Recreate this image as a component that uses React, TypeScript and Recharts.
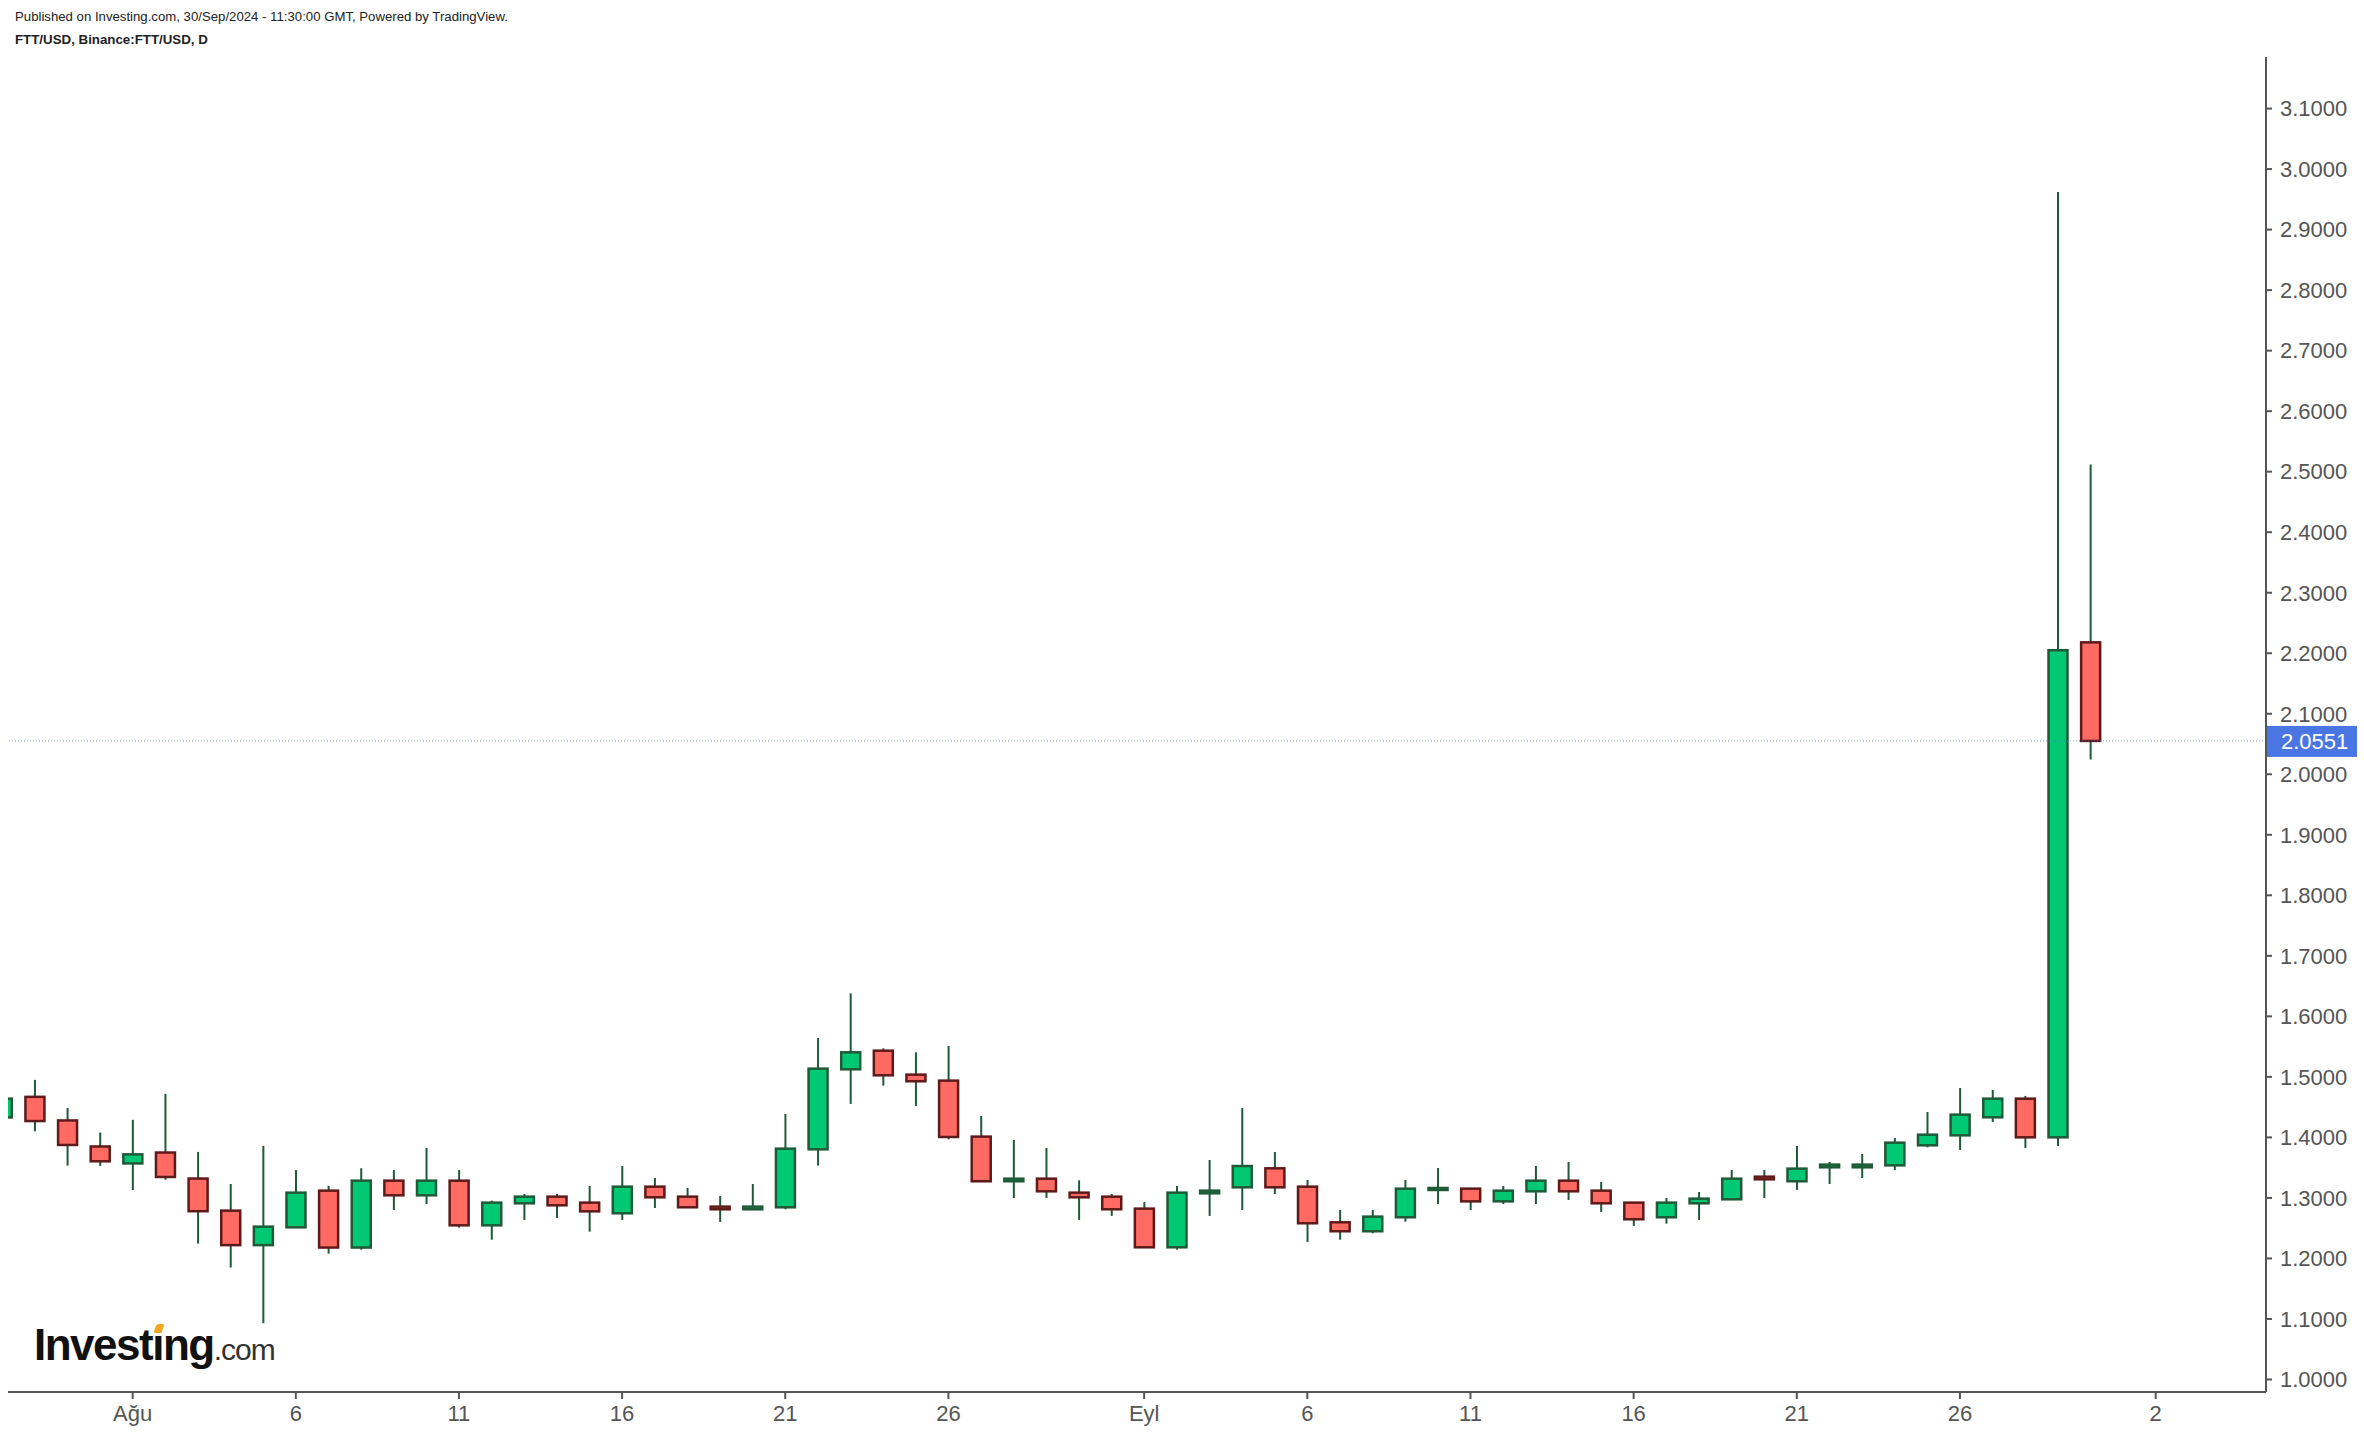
import { Bar, ComposedChart, ReferenceLine, XAxis, YAxis } from "recharts";

// days counted from 1 Aug 2024; first candle is 28 Jul
const FIRST_DAY = -4;

const opens = [
  1.433, 1.467, 1.428, 1.385, 1.357, 1.375, 1.332, 1.279, 1.222, 1.2514, 1.312, 1.218, 1.3285, 1.3043, 1.3285, 1.2547,
  1.2911, 1.3021, 1.2922, 1.2746, 1.3186, 1.3021, 1.2856, 1.2812, 1.2845, 1.3803, 1.5125, 1.5433, 1.5037, 1.4938,
  1.4013, 1.3275, 1.3318, 1.3087, 1.3021, 1.2823, 1.2184, 1.3076, 1.3175, 1.3489, 1.3186, 1.2597, 1.2449, 1.268,
  1.3142, 1.3153, 1.2943, 1.3109, 1.3285, 1.312, 1.2922, 1.268, 1.2911, 1.2977, 1.3351, 1.3275, 1.3506, 1.3506,
  1.3538, 1.3869, 1.4034, 1.4332, 1.464, 1.4001, 2.218,
];
const highs = [
  1.466, 1.495, 1.4485, 1.408, 1.429, 1.472, 1.376, 1.323, 1.386, 1.346, 1.32, 1.349, 1.346, 1.3825, 1.346, 1.2955,
  1.3065, 1.3065, 1.3197, 1.3527, 1.3329, 1.3164, 1.3032, 1.323, 1.4387, 1.5643, 1.638, 1.5472, 1.5406, 1.5511,
  1.4354, 1.3958, 1.3825, 1.3291, 1.3065, 1.2933, 1.3197, 1.3627, 1.4485, 1.3759, 1.3296, 1.28, 1.28, 1.3296,
  1.3494, 1.3153, 1.3197, 1.3527, 1.3594, 1.3263, 1.2922, 1.2999, 1.3098, 1.3461, 1.3461, 1.3858, 1.3594, 1.3726,
  1.399, 1.442, 1.4817, 1.4784, 1.4685, 2.962, 2.512,
];
const lows = [
  1.431, 1.41, 1.3534, 1.353, 1.313, 1.33, 1.2245, 1.185, 1.093, 1.251, 1.208, 1.2145, 1.28, 1.2899, 1.2509, 1.231,
  1.2636, 1.2669, 1.2442, 1.2636, 1.2834, 1.284, 1.2603, 1.281, 1.2812, 1.3534, 1.4553, 1.4855, 1.452, 1.3969,
  1.327, 1.2999, 1.2999, 1.2636, 1.2702, 1.218, 1.2145, 1.2702, 1.28, 1.3065, 1.2272, 1.231, 1.2416, 1.2608,
  1.2899, 1.28, 1.2899, 1.2899, 1.2966, 1.2767, 1.2537, 1.2575, 1.2636, 1.297, 1.2999, 1.3132, 1.323, 1.3329,
  1.3461, 1.3836, 1.3792, 1.4255, 1.3825, 1.3858, 2.0245,
];
const closes = [
  1.464, 1.427, 1.3875, 1.3605, 1.372, 1.3346, 1.278, 1.222, 1.2525, 1.3087, 1.218, 1.3285, 1.3043, 1.3285, 1.2547,
  1.2922, 1.3021, 1.2878, 1.2778, 1.3186, 1.301, 1.2845, 1.2812, 1.2856, 1.3814, 1.5136, 1.5406, 1.5026, 1.4927,
  1.4007, 1.3275, 1.3318, 1.3109, 1.301, 1.2812, 1.2184, 1.3087, 1.312, 1.3527, 1.3175, 1.2581, 1.2449, 1.2691,
  1.3153, 1.3153, 1.2943, 1.312, 1.3285, 1.3109, 1.2911, 1.2647, 1.2922, 1.2988, 1.3318, 1.3307, 1.3484, 1.355,
  1.355, 1.3913, 1.4045, 1.4376, 1.464, 1.4001, 2.205, 2.0551,
];

const tickDays = [0, 5, 10, 15, 20, 25, 31, 36, 41, 46, 51, 56, 62];
const tickLabels = ["Ağu", "6", "11", "16", "21", "26", "Eyl", "6", "11", "16", "21", "26", "2"];
const priceTicks = [
  1.0, 1.1, 1.2, 1.3, 1.4, 1.5, 1.6, 1.7, 1.8, 1.9, 2.0, 2.1, 2.2, 2.3, 2.4, 2.5, 2.6, 2.7, 2.8, 2.9, 3.0, 3.1,
];
const LAST_PRICE = 2.0551;

const FONT = "'Liberation Sans', Arial, sans-serif";
const AXIS_GREY = "#555555";
const WICK = "#1f5a38";
const UP_FILL = "#00c873";
const UP_EDGE = "#1f5a38";
const DOWN_FILL = "#ff6b62";
const DOWN_EDGE = "#5e1a1a";
const PRICE_BLUE = "#4a76e3";

const data = opens.map((open, i) => ({
  day: FIRST_DAY + i,
  open,
  high: highs[i],
  low: lows[i],
  close: closes[i],
  range: [lows[i], highs[i]],
}));

function Candle(props: any) {
  const { x, y, width, height, payload } = props;
  if (!payload || width == null) return null;
  const { open, close, high, low } = payload;
  const top = Math.min(y, y + height);
  const h = Math.abs(height);
  const toY = (v: number) => top + ((high - v) / (high - low || 1)) * h;
  const up = close >= open;
  const cx = x + width / 2;
  let bodyTop = toY(Math.max(open, close));
  let bodyBot = toY(Math.min(open, close));
  if (bodyBot - bodyTop < 2) {
    const mid = (bodyTop + bodyBot) / 2;
    bodyTop = mid - 1;
    bodyBot = mid + 1;
  }
  return (
    <g>
      <line x1={cx} x2={cx} y1={top} y2={top + h} stroke={WICK} strokeWidth={2} />
      <rect
        x={x}
        y={bodyTop}
        width={width}
        height={bodyBot - bodyTop}
        fill={up ? UP_FILL : DOWN_FILL}
        stroke={up ? UP_EDGE : DOWN_EDGE}
        strokeWidth={2.5}
      />
    </g>
  );
}

function PriceTag(props: any) {
  const vb = props.viewBox;
  if (!vb) return null;
  const left = vb.x + vb.width + 1;
  return (
    <g>
      <rect x={left} y={vb.y - 15} width={90} height={31} fill={PRICE_BLUE} />
      <text x={left + 14} y={vb.y + 8} fill="#ffffff" fontSize={22} fontFamily={FONT}>
        {LAST_PRICE.toFixed(4)}
      </text>
    </g>
  );
}

export default function App() {
  return (
    <div
      style={{
        position: "absolute",
        left: 0,
        top: 0,
        width: 2364,
        height: 1436,
        background: "#ffffff",
        fontFamily: FONT,
        overflow: "hidden",
      }}
    >
      <div style={{ position: "absolute", left: 15, top: 9, fontSize: 13.2, color: "#222" }}>
        Published on Investing.com, 30/Sep/2024 - 11:30:00 GMT, Powered by TradingView.
      </div>
      <div style={{ position: "absolute", left: 15, top: 32, fontSize: 13.3, fontWeight: 700, color: "#222" }}>
        FTT/USD, Binance:FTT/USD, D
      </div>

      <ComposedChart width={2364} height={1436} data={data} margin={{ top: 57, right: 0, bottom: 0, left: 8 }}>
        <XAxis
          type="number"
          dataKey="day"
          domain={[-3.82, 65.38]}
          allowDataOverflow
          ticks={tickDays}
          interval={0}
          tickFormatter={(v: number) => tickLabels[tickDays.indexOf(v)] ?? ""}
          height={44}
          axisLine={{ stroke: AXIS_GREY, strokeWidth: 2 }}
          tickLine={{ stroke: AXIS_GREY, strokeWidth: 2 }}
          tickSize={7}
          tickMargin={6}
          tick={{ fill: AXIS_GREY, fontSize: 22, fontFamily: FONT }}
        />
        <YAxis
          orientation="right"
          domain={[0.9793, 3.1852]}
          allowDataOverflow
          ticks={priceTicks}
          interval={0}
          tickFormatter={(v: number) => v.toFixed(4)}
          width={98}
          axisLine={{ stroke: AXIS_GREY, strokeWidth: 2 }}
          tickLine={{ stroke: AXIS_GREY, strokeWidth: 2 }}
          tickSize={6}
          tickMargin={8}
          tick={{ fill: AXIS_GREY, fontSize: 22, fontFamily: FONT }}
        />
        <Bar dataKey="range" barSize={19} shape={<Candle />} isAnimationActive={false} />
        <ReferenceLine
          y={LAST_PRICE}
          stroke={PRICE_BLUE}
          strokeOpacity={0.7}
          strokeDasharray="1 2"
          strokeWidth={1}
          label={<PriceTag />}
        />
      </ComposedChart>

      <div
        style={{
          position: "absolute",
          left: 34,
          top: 1323,
          whiteSpace: "nowrap",
          color: "#111",
          lineHeight: 1,
        }}
      >
        <span style={{ fontSize: 44, fontWeight: 700, letterSpacing: -1.5 }}>Investing</span>
        <span style={{ fontSize: 30, letterSpacing: -1, color: "#333" }}>.com</span>
      </div>
      <div
        style={{
          position: "absolute",
          left: 155,
          top: 1324,
          width: 8,
          height: 9,
          background: "#f5a623",
          transform: "skewX(-20deg)",
          borderRadius: 2,
        }}
      />
    </div>
  );
}
